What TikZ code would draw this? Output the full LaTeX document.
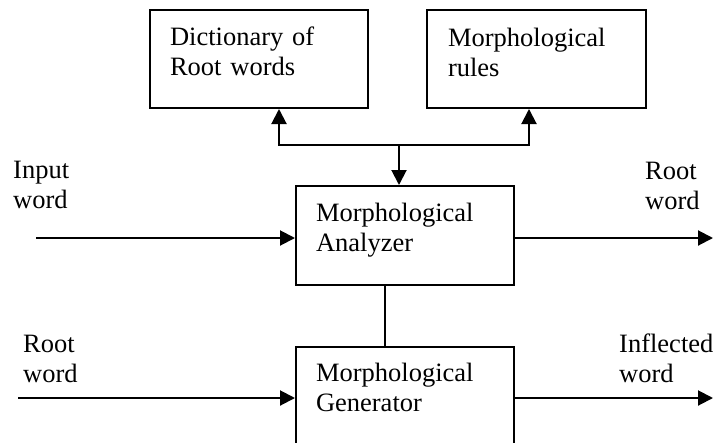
\documentclass[tikz,border=0pt]{standalone}
\usepackage{fontspec}
\setmainfont{Liberation Serif}
\usetikzlibrary{arrows.meta}
\begin{document}
\begin{tikzpicture}[x=1pt,y=-1pt,
  every node/.style={font=\fontsize{26.5}{30.5}\selectfont},
  box/.style={draw, line width=2pt, inner ysep=0pt, inner xsep=20pt,
    text width=178pt, align=left, anchor=north west},
  lbl/.style={inner sep=0pt, text width=100pt, align=left, anchor=base west},
  ln/.style={line width=2pt},
  arr/.style={ln, -{Triangle[length=15pt,width=15pt]}},
  darr/.style={ln, {Triangle[length=15pt,width=15pt]}-{Triangle[length=15pt,width=15pt]}}]
\useasboundingbox (0,0) rectangle (714,442);
% boxes
\node[box, text height=35pt, text depth=63pt] (dict) at (149,9) {Dictionary of\\Root words};
\node[box, inner xsep=21pt, text width=177pt, text height=36pt, text depth=62pt] (rules) at (426,9) {Morphological\\rules};
\node[box, text height=35pt, text depth=64pt] (an) at (295,185) {Morphological\\Analyzer};
\node[box, text height=34pt, text depth=80pt] (gen) at (295,346) {Morphological\\Generator};
% labels
\node[lbl] (inw) at (13,178) {Input\\word};
\node[lbl] (rw1) at (645,179) {Root\\word};
\node[lbl] (rw2) at (23,352) {Root\\word};
\node[lbl] (infw) at (619,352) {Inflected\\word};
% branch
\coordinate (bl) at (279,145);
\coordinate (bm) at (399,145);
\coordinate (br) at (529,145);
\draw[darr] (bl |- dict.south) -- (bl) -- (br) -- (br |- rules.south);
\draw[arr] (bm) -- (bm |- an.north);
% analyzer - generator
\coordinate (c) at (385,300);
\draw[ln] (c |- an.south) -- (c |- gen.north);
% input/output arrows
\coordinate (in1) at (36,238);
\coordinate (out1) at (713,238);
\coordinate (in2) at (18,398);
\coordinate (out2) at (713,398);
\draw[arr] (in1) -- (in1 -| an.west);
\draw[arr] (out1 -| an.east) -- (out1);
\draw[arr] (in2) -- (in2 -| gen.west);
\draw[arr] (out2 -| gen.east) -- (out2);
\end{tikzpicture}
\end{document}
